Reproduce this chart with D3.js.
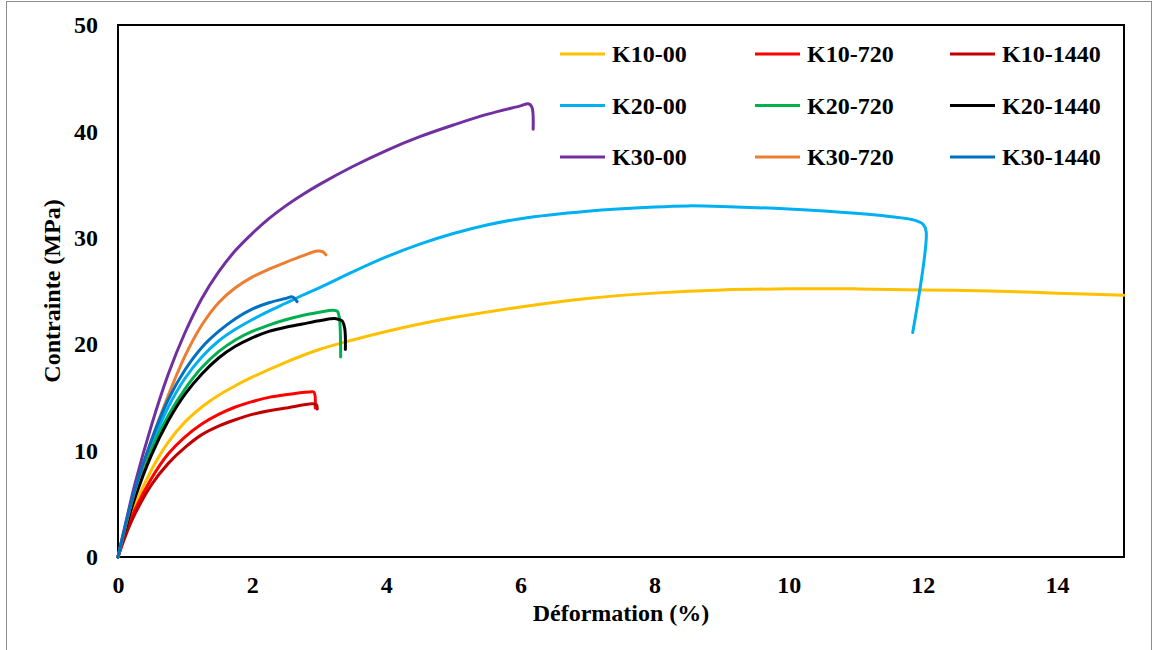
<!DOCTYPE html>
<html>
<head>
<meta charset="utf-8">
<script src="https://cdn.jsdelivr.net/npm/d3@7"></script>
<style>
  body { margin: 0; background: #fff; }
  text { font-family: "Liberation Serif", "Times New Roman", serif; font-weight: bold; fill: #000; }
</style>
</head>
<body>
<svg id="chart" width="1157" height="650"></svg>
<script>
// series names, colours and [strain %, stress MPa] points
let seriesNames = ['K10-00', 'K10-720', 'K10-1440', 'K20-00', 'K20-720', 'K20-1440', 'K30-00', 'K30-720', 'K30-1440'];
let seriesColors = ['#FFC000', '#FF0000', '#C00000', '#00B0F0', '#00B050', '#000000', '#7030A0', '#ED7D31', '#0070C0'];

let k10_00 = [[0,0],[0.1,2.1],[0.25,4.8],[0.5,8.2],[0.75,10.8],[1,12.7],[1.25,14.1],[1.5,15.2],[1.75,16.1],[2,16.9],[2.5,18.3],[3,19.5],[3.5,20.4],[4,21.2],[4.5,21.9],[5,22.5],[6,23.5],[7,24.3],[8,24.8],[9,25.1],[10,25.2],[11,25.2],[12,25.1],[13,25.0],[14,24.8],[15,24.6]];
let k10_720 = [[0,0],[0.1,2.0],[0.25,4.4],[0.5,7.4],[0.75,9.7],[1,11.3],[1.25,12.5],[1.5,13.4],[1.75,14.1],[2,14.6],[2.25,15.0],[2.5,15.25],[2.85,15.5],[2.92,15.5],[2.94,14.0]];
let k10_1440 = [[0,0],[0.1,1.8],[0.25,4.0],[0.5,6.8],[0.75,8.8],[1,10.3],[1.25,11.5],[1.5,12.3],[1.75,12.9],[2,13.4],[2.25,13.75],[2.5,14.0],[2.9,14.4],[2.96,14.3],[2.97,13.9]];
let k20_00 = [[0,0],[0.1,2.6],[0.25,6.0],[0.5,10.5],[0.75,14.1],[1,16.8],[1.25,18.8],[1.5,20.3],[1.75,21.4],[2,22.3],[2.25,23.1],[2.5,23.85],[2.75,24.6],[3,25.3],[3.5,26.8],[4,28.2],[4.5,29.4],[5,30.4],[5.5,31.2],[6,31.8],[7,32.5],[8,32.9],[8.5,33.0],[9,32.95],[10,32.7],[11,32.3],[11.5,32.0],[11.85,31.7],[12.0,31.3],[12.05,30.6],[11.85,21.1]];
let k20_720 = [[0,0],[0.1,2.5],[0.25,5.8],[0.5,10.1],[0.75,13.3],[1,15.8],[1.25,17.8],[1.5,19.3],[1.75,20.4],[2,21.2],[2.25,21.8],[2.5,22.3],[2.75,22.7],[3,23.0],[3.2,23.2],[3.27,23.1],[3.3,22.5],[3.32,18.8]];
let k20_1440 = [[0,0],[0.1,2.4],[0.25,5.5],[0.5,9.6],[0.75,12.8],[1,15.3],[1.25,17.2],[1.5,18.7],[1.75,19.8],[2,20.6],[2.25,21.2],[2.5,21.6],[2.75,21.9],[3,22.2],[3.25,22.4],[3.34,22.2],[3.38,21.5],[3.39,19.5]];
let k30_00 = [[0,0],[0.1,2.8],[0.25,6.8],[0.5,12.4],[0.75,17.2],[1,21.1],[1.25,24.3],[1.5,26.8],[1.75,28.8],[2,30.4],[2.25,31.8],[2.5,33.0],[2.75,34.05],[3,35.0],[3.5,36.7],[4,38.2],[4.5,39.5],[5,40.6],[5.5,41.6],[6,42.4],[6.12,42.6],[6.17,42.3],[6.19,40.2]];
let k30_720 = [[0,0],[0.1,2.6],[0.25,6.2],[0.5,11.0],[0.75,15.2],[1,18.9],[1.25,21.8],[1.5,23.9],[1.75,25.3],[2,26.3],[2.25,27.05],[2.5,27.7],[2.75,28.3],[2.97,28.75],[3.05,28.7],[3.1,28.4]];
let k30_1440 = [[0,0],[0.1,2.7],[0.25,6.3],[0.5,11.0],[0.75,14.8],[1,17.6],[1.25,19.7],[1.5,21.2],[1.75,22.4],[2,23.3],[2.25,23.9],[2.5,24.3],[2.6,24.45],[2.67,24.0]];

let seriesPoints = [k10_00, k10_720, k10_1440, k20_00, k20_720, k20_1440, k30_00, k30_720, k30_1440];

let xTicks = [0, 2, 4, 6, 8, 10, 12, 14];
let yTicks = [0, 10, 20, 30, 40, 50];

let svg = d3.select('#chart');

// outer frame of the picture
svg.append('rect')
	.attr('x', 6.5).attr('y', 1.5)
	.attr('width', 1145).attr('height', 660)
	.attr('fill', 'none').attr('stroke', '#8c8c8c').attr('stroke-width', 1);

let plotLeft = 118, plotRight = 1124, plotTop = 25, plotBottom = 557;

let x = d3.scaleLinear().domain([0, 15]).range([plotLeft, plotRight]);
let y = d3.scaleLinear().domain([0, 50]).range([plotBottom, plotTop]);

// plot box
svg.append('rect')
	.attr('x', plotLeft).attr('y', plotTop)
	.attr('width', plotRight - plotLeft).attr('height', plotBottom - plotTop)
	.attr('fill', 'none').attr('stroke', '#000').attr('stroke-width', 2);

// axes, labels only
let xAxis = svg.append('g')
	.attr('transform', `translate(0, ${plotBottom})`)
	.call(d3.axisBottom(x).tickValues(xTicks).tickSize(0).tickPadding(19).tickFormat(d3.format('d')));
let yAxis = svg.append('g')
	.attr('transform', `translate(${plotLeft}, 0)`)
	.call(d3.axisLeft(y).tickValues(yTicks).tickSize(0).tickPadding(20).tickFormat(d3.format('d')));
[xAxis, yAxis].forEach((ax) => {
	ax.select('.domain').remove();
	ax.selectAll('text').attr('font-size', 24).attr('font-family', '"Liberation Serif", serif');
});

let line = d3.line()
	.x((d) => x(d[0]))
	.y((d) => y(d[1]))
	.curve(d3.curveCatmullRom.alpha(0.5));

svg.append('g')
	.selectAll('path')
	.data(seriesPoints)
	.enter()
	.append('path')
	.attr('d', (d) => line(d))
	.attr('fill', 'none')
	.attr('stroke', (d, i) => seriesColors[i])
	.attr('stroke-width', 3)
	.attr('stroke-linejoin', 'round')
	.attr('stroke-linecap', 'round');

// axis titles
svg.append('text')
	.attr('x', 621)
	.attr('y', 621)
	.attr('text-anchor', 'middle')
	.attr('font-size', 24)
	.text('Déformation (%)');

svg.append('text')
	.attr('transform', 'translate(60, 291) rotate(-90)')
	.attr('text-anchor', 'middle')
	.attr('font-size', 24)
	.text('Contrainte (MPa)');

// legend, 3 columns by 3 rows
let legend = svg.append('g')
	.selectAll('g')
	.data(seriesNames)
	.enter()
	.append('g')
	.attr('transform', (d, i) => `translate(${560 + (i % 3) * 195}, ${54 + Math.floor(i / 3) * 51.5})`);
legend.append('line')
	.attr('x1', 0).attr('x2', 45)
	.attr('y1', 0).attr('y2', 0)
	.attr('stroke', (d, i) => seriesColors[i])
	.attr('stroke-width', 3);
legend.append('text')
	.attr('x', 52)
	.attr('y', 8)
	.attr('font-size', 24)
	.text((d) => d);
</script>
</body>
</html>
